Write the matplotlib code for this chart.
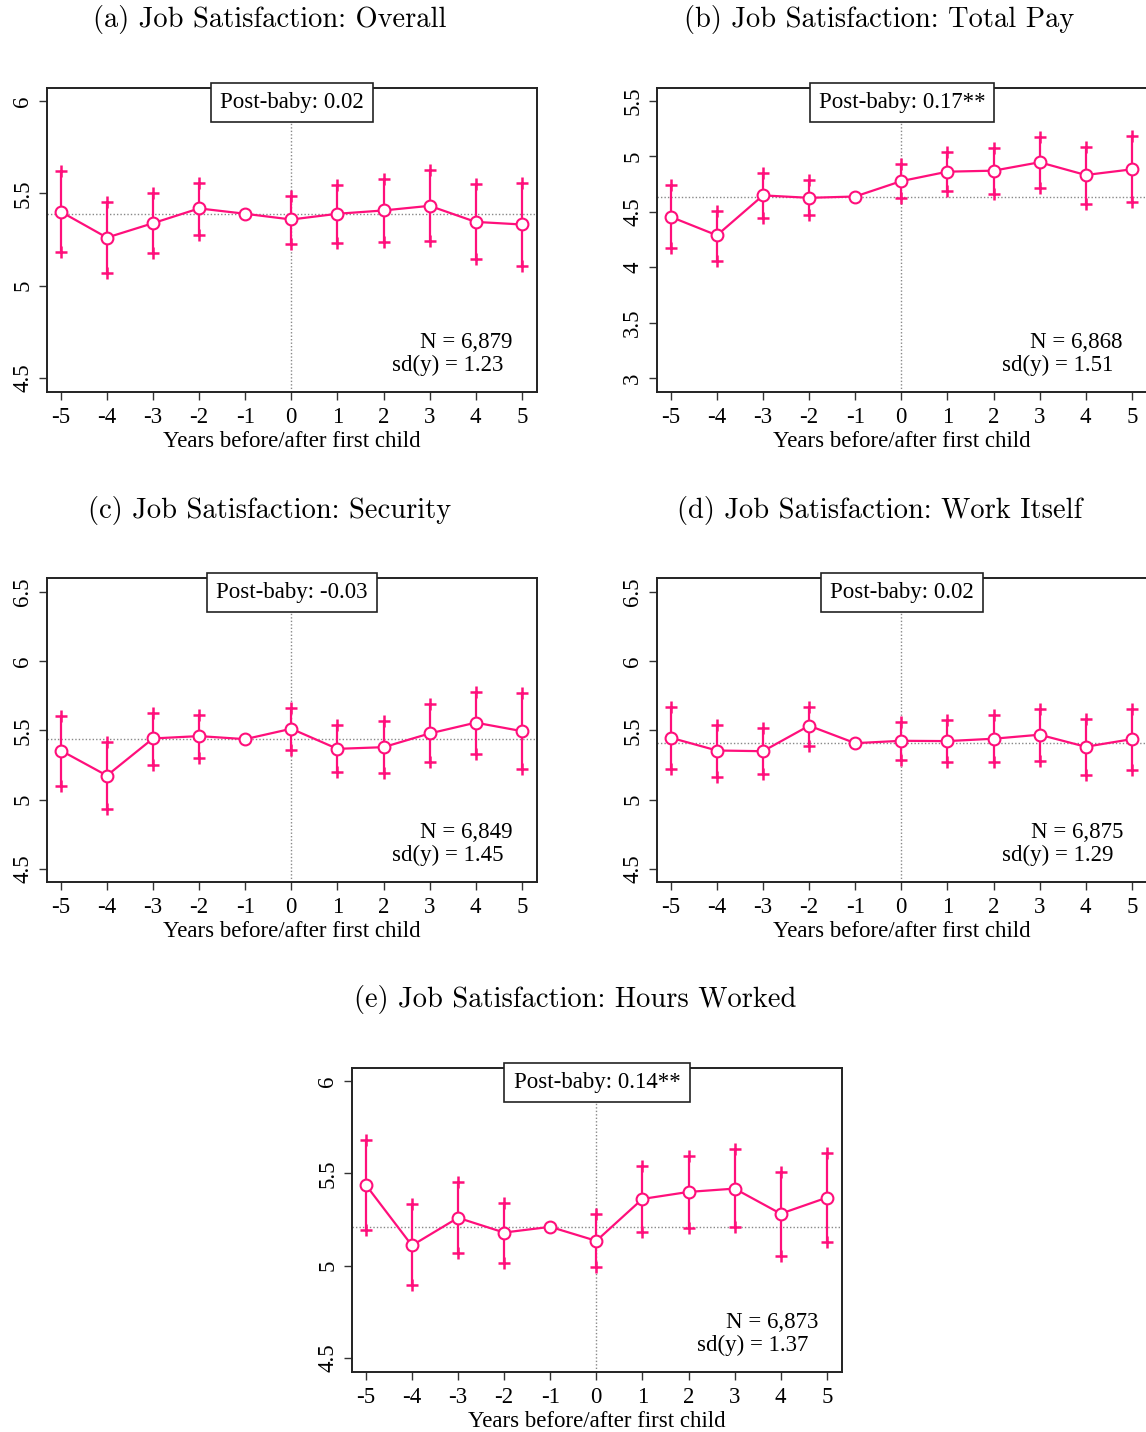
import matplotlib
matplotlib.use("Agg")
import matplotlib.pyplot as plt

plt.rcParams['font.family'] = ['Liberation Serif', 'DejaVu Serif']

years = [-5, -4, -3, -2, -1, 0, 1, 2, 3, 4, 5]
pink = '#FF0F7B'

# (a) overall
a_est = [5.400, 5.260, 5.338, 5.418, 5.389, 5.358, 5.389, 5.407, 5.432, 5.345, 5.331]
a_hi = [5.619, 5.454, 5.501, 5.556, None, 5.487, 5.545, 5.577, 5.628, 5.548, 5.556]
a_lo = [5.182, 5.066, 5.175, 5.276, None, 5.226, 5.233, 5.236, 5.240, 5.142, 5.106]
# (b) total pay
b_est = [4.454, 4.288, 4.648, 4.626, 4.638, 4.777, 4.862, 4.871, 4.947, 4.832, 4.883]
b_hi = [4.741, 4.511, 4.847, 4.787, None, 4.929, 5.044, 5.080, 5.177, 5.086, 5.180]
b_lo = [4.170, 4.058, 4.445, 4.469, None, 4.626, 4.684, 4.657, 4.717, 4.572, 4.584]
# (c) security
c_est = [5.355, 5.174, 5.442, 5.459, 5.437, 5.512, 5.367, 5.379, 5.478, 5.556, 5.495]
c_hi = [5.604, 5.415, 5.628, 5.614, None, 5.662, 5.541, 5.565, 5.691, 5.778, 5.768]
c_lo = [5.101, 4.935, 5.251, 5.300, None, 5.362, 5.198, 5.193, 5.271, 5.329, 5.222]
# (d) work itself
d_est = [5.447, 5.355, 5.350, 5.534, 5.408, 5.425, 5.423, 5.440, 5.469, 5.382, 5.437]
d_hi = [5.671, 5.541, 5.514, 5.671, None, 5.563, 5.575, 5.611, 5.657, 5.580, 5.652]
d_lo = [5.222, 5.164, 5.184, 5.391, None, 5.285, 5.273, 5.271, 5.278, 5.176, 5.213]
# (e) hours worked
e_est = [5.437, 5.109, 5.259, 5.179, 5.210, 5.134, 5.361, 5.399, 5.417, 5.281, 5.368]
e_hi = [5.678, 5.332, 5.451, 5.339, None, 5.277, 5.538, 5.594, 5.632, 5.509, 5.609]
e_lo = [5.192, 4.893, 5.067, 5.016, None, 4.991, 5.183, 5.201, 5.208, 5.051, 5.129]

titles = ["(a) Job Satisfaction: Overall", "(b) Job Satisfaction: Total Pay",
          "(c) Job Satisfaction: Security", "(d) Job Satisfaction: Work Itself",
          "(e) Job Satisfaction: Hours Worked"]
post_baby = ["Post-baby: 0.02", "Post-baby: 0.17**", "Post-baby: -0.03",
             "Post-baby: 0.02", "Post-baby: 0.14**"]
n_obs = ["N = 6,879", "N = 6,868", "N = 6,849", "N = 6,875", "N = 6,873"]
sd_y = ["sd(y) = 1.23", "sd(y) = 1.51", "sd(y) = 1.45", "sd(y) = 1.29", "sd(y) = 1.37"]
yticks = [[4.5, 5, 5.5, 6], [3, 3.5, 4, 4.5, 5, 5.5], [4.5, 5, 5.5, 6, 6.5],
          [4.5, 5, 5.5, 6, 6.5], [4.5, 5, 5.5, 6]]
ylims = [(4.424, 6.07), (2.874, 5.617), (4.406, 6.60), (4.406, 6.60), (4.424, 6.07)]

W, H = 1146, 1432
fig = plt.figure(figsize=(W / 100, H / 100), dpi=100)

# axes boxes in pixels: left, top
boxes = [(47, 88), (657, 88), (47, 578), (657, 578), (352, 1068)]
title_pos = [(270, 20), (879, 20), (270, 510), (880, 510), (575, 1000)]
aw, ah = 490, 304

data = [(a_est, a_hi, a_lo), (b_est, b_hi, b_lo), (c_est, c_hi, c_lo),
        (d_est, d_hi, d_lo), (e_est, e_hi, e_lo)]

fs = 16.5


def fmt(v):
    return str(int(v)) if v == int(v) else str(v)


for i in range(5):
    left, top = boxes[i]
    ax = fig.add_axes([left / W, (H - top - ah) / H, aw / W, ah / H])
    est, hi, lo = data[i]
    ref = est[4]
    ax.set_xlim(-5.30, 5.33)
    ax.set_ylim(*ylims[i])

    ax.axhline(ref, color='#888888', lw=1.0, ls=(0, (1, 1.5)), zorder=1)
    ax.plot([0, 0], [ylims[i][0], ylims[i][1] - 0.06 * (ylims[i][1] - ylims[i][0])],
            color='#888888', lw=1.0, ls=(0, (1, 1.5)), zorder=1)

    xs = [x for x, h in zip(years, hi) if h is not None]
    his = [h for h in hi if h is not None]
    los = [l for l in lo if l is not None]
    ax.vlines(xs, los, his, color=pink, lw=1.6, zorder=2)
    ax.plot(xs, his, '+', color=pink, ms=9, mew=1.8, zorder=2)
    ax.plot(xs, los, '+', color=pink, ms=9, mew=1.8, zorder=2)
    ax.plot(years, est, '-', color=pink, lw=1.6, zorder=3)
    ax.plot(years, est, 'o', color=pink, mfc='white', mec=pink, ms=8.5, mew=1.5, zorder=4)

    ax.set_xticks(years)
    ax.set_xticklabels([str(y) for y in years])
    ax.set_yticks(yticks[i])
    ax.set_yticklabels([fmt(v) for v in yticks[i]], rotation=90, va='center')
    ax.tick_params(axis='both', labelsize=fs, length=6, width=1.0, color='#333333')
    ax.tick_params(axis='x', pad=5)
    ax.tick_params(axis='y', pad=4)
    for s in ax.spines.values():
        s.set_linewidth(1.4)
        s.set_color('#222222')
    ax.set_xlabel("Years before/after first child", fontsize=fs, labelpad=2)

    ax.text(0.5, 0.952, post_baby[i], transform=ax.transAxes, ha='center', va='center',
            fontsize=fs, zorder=5,
            bbox=dict(boxstyle='square,pad=0.4', fc='white', ec='#222222', lw=1.2))
    ax.text(0.951, 0.164, n_obs[i], transform=ax.transAxes, ha='right', va='center', fontsize=fs)
    ax.text(0.931, 0.089, sd_y[i], transform=ax.transAxes, ha='right', va='center', fontsize=fs)

    tx, ty = title_pos[i]
    fig.text(tx / W, 1 - ty / H, titles[i], ha='center', va='center',
             fontsize=20.5, family='cmr10')

fig.savefig("out.png", dpi=100)
